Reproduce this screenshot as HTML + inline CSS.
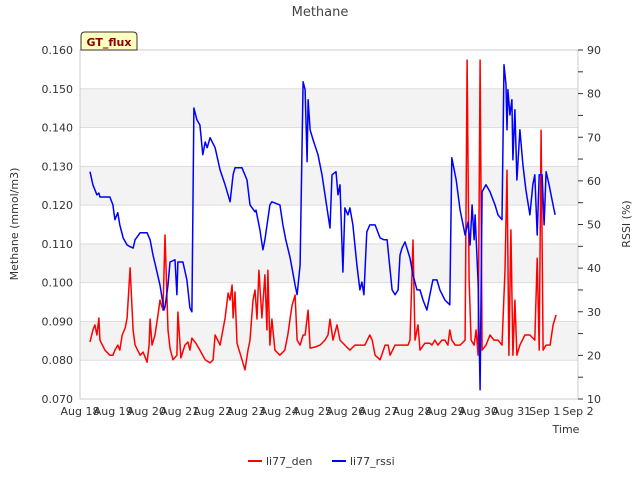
<!DOCTYPE html>
<html><head><meta charset="utf-8"><style>
body{margin:0;background:#fff}
svg{font-family:"DejaVu Sans","Liberation Sans",sans-serif}
</style></head><body>
<svg id="c" width="640" height="480" xmlns="http://www.w3.org/2000/svg">
<text x="320" y="16" text-anchor="middle" font-size="13" fill="#444">Methane</text>
<g id="bands"></g><g id="grid"></g>
<rect x="80" y="50" width="498" height="349" fill="none" stroke="#ccc"/>
<g id="axes"></g>
<g id="series"></g>
<text transform="translate(18,224) rotate(-90)" text-anchor="middle" font-size="11" fill="#333">Methane (mmol/m3)</text>
<text transform="translate(630,224) rotate(-90)" text-anchor="middle" font-size="11" fill="#333">RSSI (%)</text>
<text x="566" y="433" text-anchor="middle" font-size="11" fill="#333">Time</text>
<g>
<path d="M81,50 L81,36 Q81,32 85,32 L133,32 Q137,32 137,36 L137,50 Z" fill="#ffffc0" stroke="#333"/>
<text x="109" y="46" text-anchor="middle" font-size="11" font-weight="bold" fill="#8b0000">GT_flux</text>
</g>
<g>
<line x1="248" y1="461" x2="262" y2="461" stroke="#f00" stroke-width="2"/>
<text x="266" y="465" font-size="11" fill="#333">li77_den</text>
<line x1="332" y1="461" x2="346" y2="461" stroke="#00f" stroke-width="2"/>
<text x="350" y="465" font-size="11" fill="#333">li77_rssi</text>
</g>
</svg>
<script>
const xTickLabels=["Aug 18","Aug 19","Aug 20","Aug 21","Aug 22","Aug 23","Aug 24","Aug 25","Aug 26","Aug 27","Aug 28","Aug 29","Aug 30","Aug 31","Sep 1","Sep 2"];
const yTicks=[0.070,0.080,0.090,0.100,0.110,0.120,0.130,0.140,0.150,0.160];
const y2Ticks=[10,20,30,40,50,60,70,80,90];
const rssiTimes=[0.30,0.39,0.51,0.57,0.60,0.90,0.99,1.05,1.14,1.20,1.30,1.42,1.51,1.60,1.66,1.81,2.02,2.11,2.20,2.32,2.41,2.53,2.56,2.65,2.71,2.86,2.92,2.95,3.10,3.22,3.31,3.37,3.43,3.52,3.61,3.70,3.77,3.83,3.92,4.07,4.22,4.37,4.52,4.61,4.67,4.88,5.03,5.12,5.27,5.30,5.42,5.51,5.57,5.72,5.78,6.02,6.11,6.20,6.33,6.48,6.54,6.63,6.72,6.78,6.84,6.87,6.93,7.02,7.17,7.29,7.38,7.53,7.59,7.71,7.77,7.83,7.92,7.98,8.07,8.13,8.22,8.34,8.43,8.49,8.55,8.64,8.73,8.89,9.04,9.16,9.25,9.34,9.40,9.49,9.58,9.64,9.70,9.79,9.94,10.03,10.15,10.24,10.33,10.45,10.54,10.63,10.75,10.84,10.99,11.14,11.20,11.33,11.45,11.54,11.60,11.69,11.75,11.81,11.87,11.90,11.99,12.05,12.11,12.23,12.35,12.50,12.59,12.71,12.77,12.83,12.86,12.89,12.95,13.01,13.04,13.10,13.16,13.25,13.34,13.43,13.55,13.64,13.70,13.77,13.83,13.92,13.98,14.04,14.13,14.22,14.31];
const rssiValues=[62.1,59.1,56.8,57.2,56.3,56.3,54.5,51.1,52.7,49.9,46.9,45.3,44.9,44.6,46.5,48.1,48.1,46.5,43.0,39.1,36.1,30.4,31.1,36.1,41.4,41.9,33.9,41.4,41.4,37.3,30.9,30.0,76.7,74.0,72.8,66.0,68.9,67.6,69.9,67.6,62.5,59.1,55.2,61.4,63.0,63.0,60.2,54.5,52.9,53.3,48.8,44.2,46.5,54.5,55.2,54.5,49.9,46.5,42.3,36.1,33.9,40.7,82.7,80.9,64.4,78.6,71.7,69.4,66.0,61.4,56.8,49.2,61.4,62.1,56.8,59.1,39.1,53.8,52.2,53.8,49.9,40.7,35.0,36.8,33.9,48.3,49.9,49.9,46.9,46.5,46.5,39.6,35.0,33.9,35.0,43.0,44.6,46.0,42.3,38.4,35.0,35.0,32.7,30.4,33.9,37.3,37.3,35.0,32.7,31.6,65.3,60.2,53.3,49.9,47.6,50.6,45.3,54.5,46.5,52.2,36.8,12.1,57.5,59.1,57.5,54.5,52.2,51.1,86.6,82.0,71.7,80.9,75.1,78.6,64.8,76.3,60.2,71.7,63.7,57.9,52.2,59.1,61.4,47.6,61.4,61.4,49.9,62.1,59.1,55.6,52.2];
const denTimes=[0.30,0.39,0.45,0.51,0.57,0.60,0.75,0.90,0.99,1.05,1.14,1.20,1.27,1.36,1.42,1.51,1.60,1.66,1.81,1.90,2.02,2.08,2.11,2.17,2.26,2.35,2.41,2.50,2.56,2.65,2.71,2.80,2.92,2.95,3.04,3.16,3.25,3.31,3.37,3.49,3.61,3.77,3.92,4.01,4.07,4.22,4.37,4.46,4.52,4.58,4.61,4.67,4.73,4.88,4.97,5.06,5.12,5.21,5.27,5.33,5.39,5.48,5.57,5.63,5.66,5.72,5.78,5.87,6.02,6.17,6.26,6.33,6.39,6.48,6.54,6.63,6.72,6.78,6.87,6.93,7.08,7.23,7.38,7.47,7.53,7.62,7.74,7.83,7.98,8.13,8.28,8.43,8.58,8.73,8.80,8.89,9.04,9.19,9.28,9.34,9.49,9.64,9.79,9.88,9.94,10.03,10.09,10.18,10.24,10.39,10.54,10.60,10.69,10.78,10.90,10.99,11.08,11.14,11.20,11.30,11.45,11.60,11.66,11.72,11.78,11.87,11.93,11.99,12.05,12.11,12.23,12.35,12.47,12.59,12.71,12.80,12.86,12.92,12.98,13.04,13.10,13.16,13.25,13.40,13.55,13.70,13.77,13.83,13.89,13.95,14.04,14.16,14.25,14.34];
const denValues=[0.0847,0.0878,0.0891,0.0865,0.0909,0.0852,0.0826,0.0813,0.0813,0.0826,0.0839,0.0826,0.0865,0.0883,0.0909,0.1038,0.0878,0.0839,0.0813,0.0821,0.0795,0.0839,0.0906,0.0839,0.0865,0.0917,0.0955,0.0929,0.1123,0.0878,0.0831,0.0801,0.0813,0.0924,0.0806,0.0839,0.0847,0.0826,0.0857,0.0844,0.0826,0.0801,0.0793,0.0801,0.0865,0.0839,0.0909,0.0973,0.0955,0.0994,0.0909,0.0976,0.0844,0.0801,0.0775,0.0826,0.0852,0.0955,0.0981,0.0906,0.1032,0.0909,0.1020,0.0878,0.1032,0.0839,0.0906,0.0826,0.0813,0.0826,0.0865,0.0909,0.0942,0.0968,0.0852,0.0839,0.0865,0.0865,0.0929,0.0831,0.0834,0.0839,0.0852,0.0865,0.0906,0.0852,0.0891,0.0852,0.0839,0.0826,0.0839,0.0839,0.0839,0.0865,0.0852,0.0813,0.0801,0.0839,0.0839,0.0813,0.0839,0.0839,0.0839,0.0839,0.0852,0.1110,0.0852,0.0891,0.0826,0.0844,0.0844,0.0839,0.0852,0.0839,0.0852,0.0852,0.0839,0.0878,0.0852,0.0839,0.0839,0.0852,0.1574,0.1007,0.0852,0.0839,0.0878,0.0813,0.1574,0.0826,0.0839,0.0865,0.0852,0.0852,0.0839,0.1032,0.1290,0.0813,0.1136,0.0813,0.0955,0.0813,0.0839,0.0865,0.0865,0.0852,0.1063,0.0826,0.1393,0.0826,0.0839,0.0839,0.0891,0.0917];
const NS="http://www.w3.org/2000/svg";
const L=80,R=578,T=50,B=399;
const xs=d=>L+d*(R-L)/15;
const ys=v=>B-(v-0.07)/(0.09)*(B-T);
const ys2=v=>B-(v-10)/80*(B-T);
function mk(tag,attrs,parent){const e=document.createElementNS(NS,tag);for(const k in attrs)e.setAttribute(k,attrs[k]);document.getElementById(parent).appendChild(e);return e;}
for(let i=0;i<yTicks.length-1;i++){
  if(i%2===1){const r=mk('rect',{x:L,y:ys(yTicks[i+1]),width:R-L,height:ys(yTicks[i])-ys(yTicks[i+1]),fill:'#f3f3f3'},'bands');
  
  }
}
yTicks.forEach(v=>{
  const g=mk('line',{x1:L,x2:R,y1:ys(v),y2:ys(v),stroke:'#ddd'},'grid');
  
  
  const t=mk('text',{x:L-7,y:ys(v)+4,'text-anchor':'end','font-size':'11',fill:'#333'},'axes');
  t.textContent=v.toFixed(3);
  
  
});
for(let v=10;v<=90;v+=5){
  const k=mk('line',{x1:R,x2:R+5,y1:ys2(v),y2:ys2(v),stroke:'#333'},'axes');
  
  
}
y2Ticks.forEach(v=>{
  const t=mk('text',{x:R+9,y:ys2(v)+4,'font-size':'11',fill:'#333'},'axes');
  t.textContent=v;
  
  
});
xTickLabels.forEach((s,i)=>{
  const t=mk('text',{x:xs(i),y:415,'text-anchor':'middle','font-size':'11',fill:'#333'},'axes');
  t.textContent=s;
  
  
});
const pd=denTimes.map((d,i)=>(i?'L':'M')+xs(d).toFixed(1)+','+ys(denValues[i]).toFixed(1)).join('');
const p1=mk('path',{d:pd,fill:'none',stroke:'#f00','stroke-width':'1.5','stroke-linejoin':'round'},'series');


const pr=rssiTimes.map((d,i)=>(i?'L':'M')+xs(d).toFixed(1)+','+ys2(rssiValues[i]).toFixed(1)).join('');
const p2=mk('path',{d:pr,fill:'none',stroke:'#00f','stroke-width':'1.5','stroke-linejoin':'round'},'series');


</script>
</body></html>
